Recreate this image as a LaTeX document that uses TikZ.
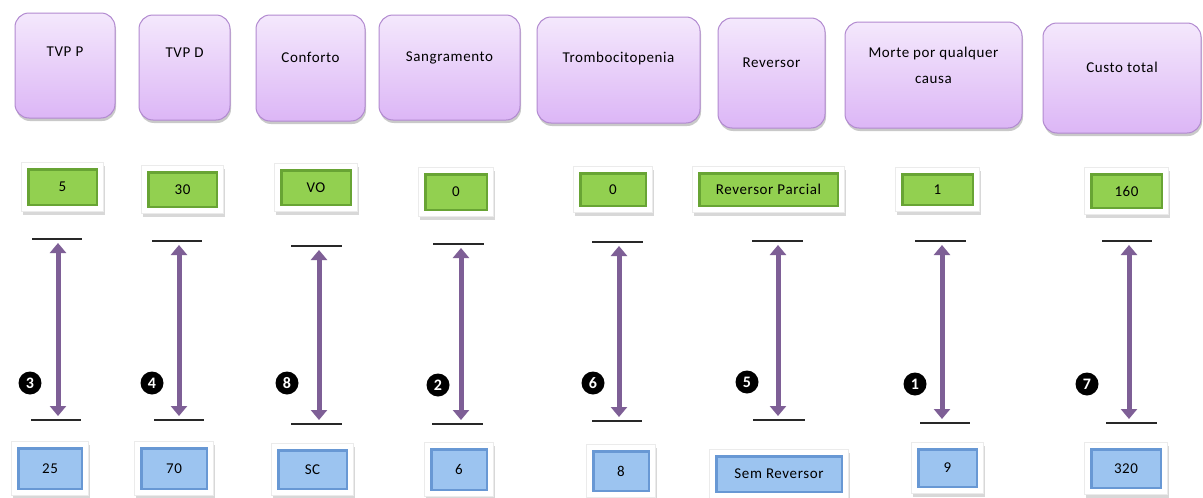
\documentclass[tikz,border=0pt]{standalone}
\usepackage{fontspec}
\setmainfont{Carlito}[LetterSpace=4]
\usetikzlibrary{arrows.meta,shadows}
\definecolor{ptop}{RGB}{244,232,252}
\definecolor{pbot}{RGB}{220,182,246}
\definecolor{pborder}{RGB}{178,138,208}
\definecolor{gface}{RGB}{146,208,80}
\definecolor{gedge}{RGB}{104,164,52}
\definecolor{bface}{RGB}{156,196,240}
\definecolor{bedge}{RGB}{104,152,212}
\definecolor{arrowc}{RGB}{126,95,150}
\definecolor{barc}{RGB}{40,40,40}
\tikzset{
  every node/.style={font=\fontsize{15}{18}\selectfont},
  pbox/.style={rounded corners=14pt, draw=pborder, line width=1pt,
    top color=ptop, bottom color=pbot, inner sep=0pt,
    drop shadow={shadow xshift=1pt, shadow yshift=-3pt, opacity=0.35, fill=black!60}},
  ptext/.style={align=center, inner sep=0pt},
  framebox/.style={fill=white, draw=black!8, line width=0.6pt, inner sep=0pt,
    drop shadow={shadow xshift=1pt, shadow yshift=-3pt, opacity=0.25, fill=black!60}},
  greenedge/.style={fill=gedge, inner sep=0pt},
  greenface/.style={fill=gface, inner sep=0pt, text=black},
  blueedge/.style={fill=bedge, inner sep=0pt},
  blueface/.style={fill=bface, inner sep=0pt, text=black},
  barline/.style={draw=barc, line width=1.5pt},
  dblarrow/.style={draw=arrowc, line width=5pt,
    {Triangle[width=16pt,length=10pt]}-{Triangle[width=16pt,length=10pt]}},
  numc/.style={circle, fill=black, text=white, inner sep=0pt, minimum size=23pt,
    font=\bfseries\fontsize{16}{16}\selectfont}
}
\newcommand\mkval[7]{%
  \node[framebox, minimum width=#4pt+11pt, minimum height=#5pt+11pt] at (#2,#3) {};
  \node[#6edge, minimum width=#4pt, minimum height=#5pt] at (#2,#3) {};
  \node[#6face, minimum width=#4pt-5pt, minimum height=#5pt-5pt] (#1) at (#2,#3) {#7};
}
\newcommand\mkhead[7]{%
  \node[pbox, minimum width=#4pt, minimum height=#5pt] (#1) at (#2,#3) {};
  \node[ptext] (#1t) at (#2,#6) {#7};
}
\begin{document}
\begin{tikzpicture}[x=1pt,y=-1pt]
\useasboundingbox[fill=white] (0,0) rectangle (1203,498);
% header boxes
\mkhead{h1}{65}{65.5}{100}{105}{52}{TVP P}
\mkhead{h2}{184.5}{67.5}{91}{105}{53}{TVP D}
\mkhead{h3}{310.5}{68}{109}{106}{57}{Conforto}
\mkhead{h4}{449.5}{67.5}{141}{105}{58}{Sangramento}
\mkhead{h5}{618.5}{70}{163}{106}{58}{Trombocitopenia}
\mkhead{h6}{771.5}{73}{107}{110}{63}{Reversor}
\mkhead{h7}{933.5}{75}{177}{106}{65}{Morte por qualquer\\[8pt]causa}
\mkhead{h8}{1122}{78}{158}{110}{67}{Custo total}
% green value boxes
\mkval{g1}{62.5}{187}{71}{38}{green}{5}
\mkval{g2}{182.5}{189.5}{71}{37}{green}{30}
\mkval{g3}{316}{187.5}{72}{37}{green}{VO}
\mkval{g4}{456}{192}{64}{38}{green}{0}
\mkval{g5}{613}{189.5}{68}{35}{green}{0}
\mkval{g6}{768.5}{189.5}{141}{35}{green}{Reversor Parcial}
\mkval{g7}{937.5}{189.5}{73}{33}{green}{1}
\mkval{g8}{1126.5}{191}{73}{36}{green}{160}
% blue value boxes
\mkval{b1}{50}{468.5}{66}{43}{blue}{25}
\mkval{b2}{174}{468.5}{68}{43}{blue}{70}
\mkval{b3}{312.5}{469.5}{71}{41}{blue}{SC}
\mkval{b4}{459}{469.5}{58}{43}{blue}{6}
\mkval{b5}{621}{471}{58}{42}{blue}{8}
\mkval{b6}{779}{474}{128}{38}{blue}{Sem Reversor}
\mkval{b7}{947.5}{468}{61}{40}{blue}{9}
\mkval{b8}{1126}{468.5}{72}{41}{blue}{320}
% bars, arrows, numbers
\foreach \i/\ta/\tb/\tyy/\ba/\bb/\byy/\ax/\cx/\cy/\dg in {
  1/32/82/239/31/81/420/58/30/383/3,
  2/152/202/241/154/204/420/179/152/383/4,
  3/291/342/246/291/342/424/319/287/383/8,
  4/433/484/244/432/483/424/461/438/385/2,
  5/592/643/242/592/642/421/619/593/383/6,
  6/752/803/241/753/805/420/778/747/382/5,
  7/915/966/241/920/970/423/942/915/384/1,
  8/1102/1152/241/1106/1157/423/1129/1087/384/7}{
  \coordinate (tl\i) at (\ta,\tyy);
  \coordinate (tr\i) at (\tb,\tyy);
  \coordinate (bl\i) at (\ba,\byy);
  \coordinate (br\i) at (\bb,\byy);
  \coordinate (at\i) at (\ax,\tyy+4);
  \coordinate (ab\i) at (\ax,\byy-4);
  \draw[barline] (tl\i) -- (tr\i);
  \draw[barline] (bl\i) -- (br\i);
  \draw[dblarrow] (at\i) -- (ab\i);
  \node[numc] (n\i) at (\cx,\cy) {\dg};
}
\end{tikzpicture}
\end{document}
